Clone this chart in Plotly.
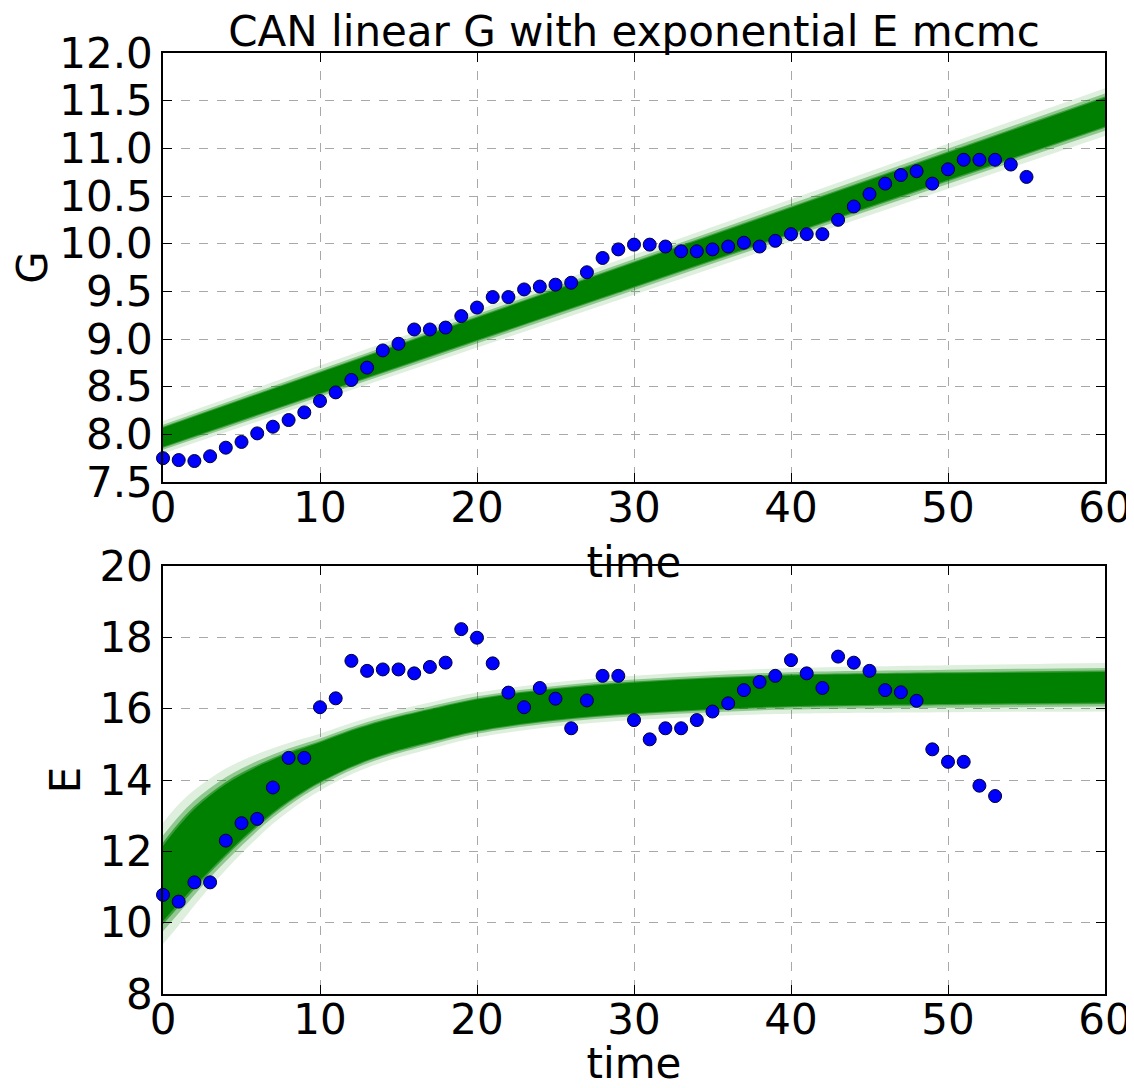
import plotly.graph_objects as go
from plotly.subplots import make_subplots

# ---------------- data ----------------
time_G = list(range(0, 56))
G_obs = [7.75, 7.73, 7.72, 7.77, 7.86, 7.92, 8.01, 8.08, 8.15, 8.23,
         8.35, 8.44, 8.57, 8.70, 8.88, 8.95, 9.10, 9.10, 9.12, 9.24,
         9.33, 9.44, 9.44, 9.52, 9.55, 9.57, 9.59, 9.70, 9.85, 9.94,
         9.99, 9.99, 9.97, 9.92, 9.92, 9.94, 9.97, 10.01, 9.97, 10.03,
         10.10, 10.10, 10.10, 10.25, 10.39, 10.52, 10.63, 10.72, 10.76, 10.63,
         10.78, 10.88, 10.88, 10.88, 10.83, 10.70]

time_E = list(range(0, 54))
E_obs = [10.78, 10.59, 11.13, 11.13, 12.30, 12.79, 12.91, 13.79, 14.62, 14.62,
         16.04, 16.29, 17.34, 17.06, 17.10, 17.10, 16.99, 17.17, 17.29, 18.23,
         17.99, 17.27, 16.45, 16.04, 16.58, 16.28, 15.45, 16.23, 16.92, 16.92,
         15.68, 15.14, 15.45, 15.45, 15.68, 15.92, 16.15, 16.52, 16.75, 16.92,
         17.36, 16.99, 16.58, 17.46, 17.29, 17.06, 16.52, 16.46, 16.22, 14.86,
         14.51, 14.51, 13.84, 13.55]

# MCMC model band: centre, core half-width, halo half-width
band_G_time = [0, 60]
band_G_mid = [7.97, 11.38]
band_G_core = [0.10, 0.15]
band_G_halo = [0.17, 0.25]

band_E_time = [0, 1, 2, 3, 4, 5, 6, 7, 8, 9, 10, 12, 14, 17, 20, 25, 30, 35, 40, 50, 60]
band_E_mid = [11.1, 11.62, 12.1, 12.52, 12.9, 13.24, 13.55, 13.83, 14.08, 14.3, 14.5,
              14.88, 15.18, 15.52, 15.82, 16.12, 16.3, 16.42, 16.5, 16.56, 16.6]
band_E_core = [1.05, 1.08, 1.08, 1.04, 0.98, 0.9, 0.82, 0.74, 0.67, 0.6, 0.55,
               0.5, 0.47, 0.45, 0.44, 0.43, 0.43, 0.43, 0.43, 0.43, 0.43]
band_E_halo = [1.7, 1.7, 1.62, 1.52, 1.42, 1.3, 1.18, 1.06, 0.96, 0.87, 0.8,
               0.72, 0.68, 0.65, 0.63, 0.62, 0.62, 0.63, 0.64, 0.66, 0.68]

G_ticks = [7.5, 8.0, 8.5, 9.0, 9.5, 10.0, 10.5, 11.0, 11.5, 12.0]
E_ticks = [8, 10, 12, 14, 16, 18, 20]
time_ticks = [0, 10, 20, 30, 40, 50, 60]

# ---------------- figure ----------------
# page has an 8px body margin; figure is sized so the axes land where the reference has them
W, H = 1126, 1080
ML, MR, MT, MB = 155, 29, 45, 94
ph = H - MT - MB
bottom_px = H - MB
top_dom = [(bottom_px - 474) / ph, 1.0]
bot_dom = [0.0, (bottom_px - 558) / ph]

FONT = "DejaVu Sans"
FS = 42
GREEN = "#008000"

fig = make_subplots(rows=2, cols=1)


def add_band(t, mid, core, halo, row):
    layers = [
        (halo, "rgba(0,128,0,0.13)"),
        ([c + 0.45 * (h - c) for c, h in zip(core, halo)], "rgba(0,128,0,0.35)"),
        ([c + 0.15 * (h - c) for c, h in zip(core, halo)], "rgba(0,128,0,0.6)"),
        (core, GREEN),
    ]
    for half, col in layers:
        upper = [m + h for m, h in zip(mid, half)]
        lower = [m - h for m, h in zip(mid, half)]
        fig.add_trace(go.Scatter(x=t, y=lower, mode="lines", line=dict(width=0, shape="spline"),
                                 showlegend=False, hoverinfo="skip"), row=row, col=1)
        fig.add_trace(go.Scatter(x=t, y=upper, mode="lines", line=dict(width=0, shape="spline"),
                                 fill="tonexty", fillcolor=col, showlegend=False,
                                 hoverinfo="skip"), row=row, col=1)


add_band(band_G_time, band_G_mid, band_G_core, band_G_halo, 1)
add_band(band_E_time, band_E_mid, band_E_core, band_E_halo, 2)

marker = dict(color="#0000ff", size=13, line=dict(color="#000033", width=1))
fig.add_trace(go.Scatter(x=time_G, y=G_obs, mode="markers", marker=marker,
                         showlegend=False, cliponaxis=False), row=1, col=1)
fig.add_trace(go.Scatter(x=time_E, y=E_obs, mode="markers", marker=marker,
                         showlegend=False, cliponaxis=False), row=2, col=1)

axis_common = dict(
    showline=True, linecolor="black", linewidth=1.5, mirror="allticks",
    ticks="inside", ticklen=9, tickwidth=1, tickcolor="black",
    showgrid=True, gridcolor="#a8a8a8", griddash="dash", gridwidth=1,
    zeroline=False, automargin=False, ticklabeloverflow="allow",
    tickfont=dict(family=FONT, size=FS, color="black"),
    title_font=dict(family=FONT, size=FS, color="black"),
)

fig.update_xaxes(**axis_common, range=[0, 60], tickvals=time_ticks,
                 ticklabelstandoff=-12, title_text="time", title_standoff=16)
fig.update_xaxes(domain=[0, 1], row=1, col=1)
fig.update_xaxes(domain=[0, 1], row=2, col=1)
fig.update_yaxes(**axis_common)
fig.update_yaxes(range=[7.5, 12.0], tickvals=G_ticks, tickformat=".1f",
                 domain=top_dom, title_text="G", title_standoff=6, row=1, col=1)
fig.update_yaxes(range=[8, 20], tickvals=E_ticks, domain=bot_dom,
                 title_text="E", title_standoff=6, row=2, col=1)

fig.update_layout(
    width=W, height=H,
    margin=dict(l=ML, r=MR, t=MT, b=MB),
    paper_bgcolor="white", plot_bgcolor="white",
    font=dict(family=FONT, size=FS, color="black"),
    title=dict(text="CAN linear G with exponential E mcmc", x=0.5, xanchor="center",
               xref="paper", y=1 - 23 / H, yanchor="middle",
               font=dict(family=FONT, size=FS, color="black")),
    showlegend=False,
)

fig.write_html("out.html")
